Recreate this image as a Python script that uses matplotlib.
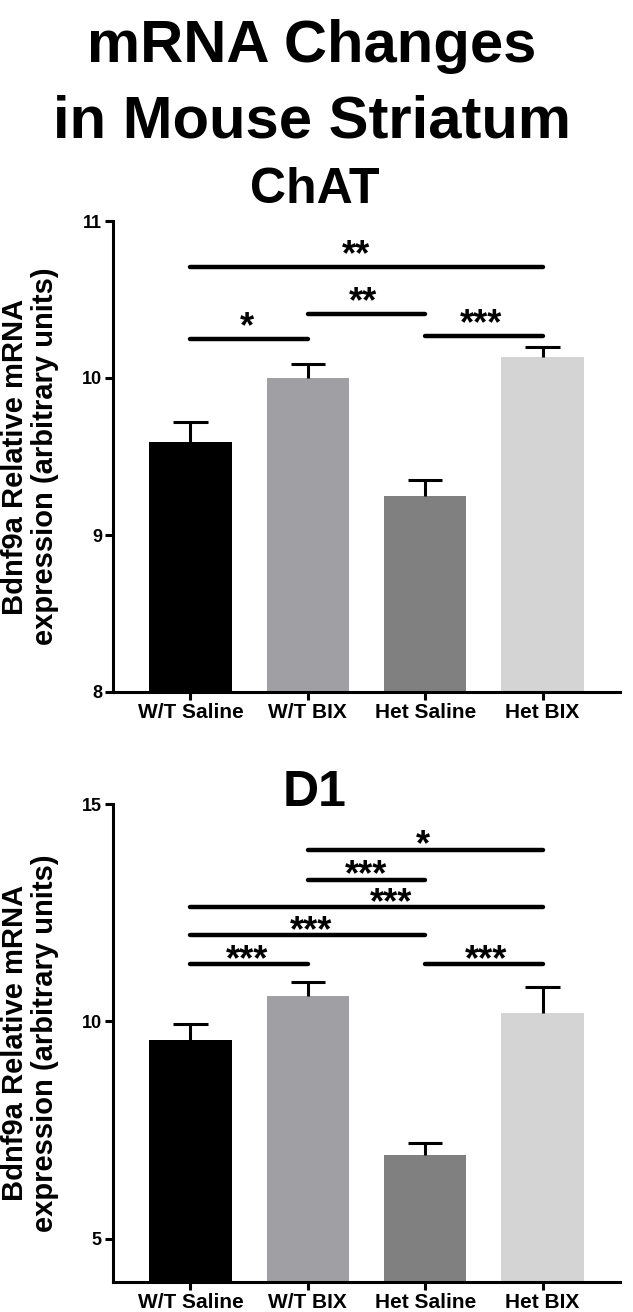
import numpy as np
import matplotlib
matplotlib.use('Agg')
import matplotlib.pyplot as plt

plt.rcParams['font.family'] = ['Liberation Sans', 'DejaVu Sans']
plt.rcParams['font.weight'] = 'bold'

# data
groups = ['W/T Saline', 'W/T BIX', 'Het Saline', 'Het BIX']
bar_colors = ['#000000', '#a0a0a4', '#808080', '#d4d4d4']

chat_mean = [9.59, 10.0, 9.25, 10.135]
chat_sem = [0.13, 0.087, 0.10, 0.06]
# (left group, right group, line height, stars, star x)
chat_sig = [(0, 3, 10.71, '**', 1.41),
            (0, 1, 10.25, '*', 0.485),
            (1, 2, 10.41, '**', 1.47),
            (2, 3, 10.27, '***', 2.48)]

d1_mean = [9.565, 10.585, 6.93, 10.19]
d1_sem = [0.37, 0.315, 0.27, 0.59]
d1_sig = [(1, 3, 13.94, '*', 1.98),
          (1, 2, 13.25, '***', 1.50),
          (0, 3, 12.62, '***', 1.71),
          (0, 2, 11.98, '***', 1.03),
          (0, 1, 11.31, '***', 0.485),
          (2, 3, 11.31, '***', 2.52)]

W, H = 633, 1312
fig = plt.figure(figsize=(W/100, H/100), dpi=100)

def px_axes(left, top, right, bottom):
    return fig.add_axes([left/W, 1-bottom/H, (right-left)/W, (bottom-top)/H])

def panel(ax, title, title_y, means, sems, ylim, yticks, sig, star_off):
    x = np.arange(len(groups))
    means = np.array(means)
    sems = np.array(sems)
    ax.bar(x, means, width=0.7, color=bar_colors, zorder=2)
    # upper-only error bars
    ax.vlines(x, means, means + sems, color='black', lw=2.2, zorder=3)
    ax.hlines(means + sems, x - 0.147, x + 0.147, color='black', lw=2.2, zorder=3)
    for a, b, h, s, sx in sig:
        ax.plot([a, b], [h, h], color='black', lw=3.2, solid_capstyle='round', zorder=4)
        ax.annotate(s, (sx, h), xytext=(0, star_off), textcoords='offset points',
                    ha='center', va='baseline', fontsize=26, fontweight='bold')
    ax.set_xlim(-0.66, 3.66)
    ax.set_ylim(*ylim)
    ax.set_yticks(yticks)
    ax.set_xticks(x)
    ax.set_xticklabels(groups, fontsize=15, fontweight='bold')
    ax.tick_params(axis='y', labelsize=13, width=2.2, length=6, pad=2)
    ax.tick_params(axis='x', width=2.2, length=6, pad=2)
    for sp in ['top', 'right']:
        ax.spines[sp].set_visible(False)
    for sp in ['left', 'bottom']:
        ax.spines[sp].set_linewidth(2.2)
    bb = ax.get_position()
    fig.text(30/W, bb.y0 + bb.height/2, 'Bdnf9a Relative mRNA\nexpression (arbitrary units)',
             rotation=90, ha='center', va='center', fontsize=21, fontweight='bold',
             linespacing=1.1, multialignment='center')
    fig.text(315/W, 1-title_y/H, title, ha='center', va='baseline', fontsize=36,
             fontweight='bold')

ax1 = px_axes(113, 221, 620, 692)
panel(ax1, 'ChAT', 203, chat_mean, chat_sem, (8, 11), [8, 9, 10, 11], chat_sig, 1)

ax2 = px_axes(113, 804, 620, 1282)
panel(ax2, 'D1', 806, d1_mean, d1_sem, (4, 15), [5, 10, 15], d1_sig, -4)

fig.text(312/W, 1-62/H, 'mRNA Changes', ha='center', va='baseline', fontsize=43, fontweight='bold')
fig.text(312/W, 1-137/H, 'in Mouse Striatum', ha='center', va='baseline', fontsize=43, fontweight='bold')

fig.savefig('out.png', dpi=100)
